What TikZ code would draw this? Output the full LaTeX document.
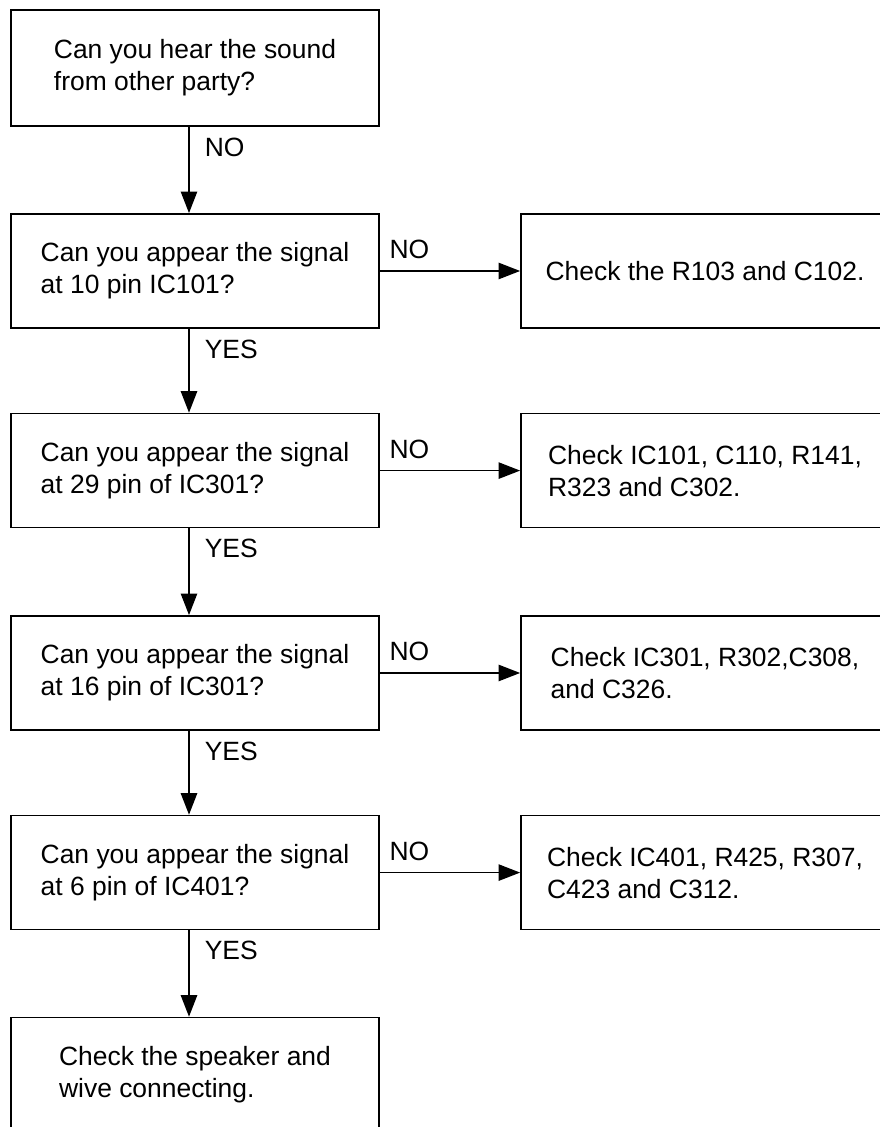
\documentclass[tikz,border=0pt]{standalone}
\usepackage{fontspec}
\setmainfont{Liberation Sans}
\usepackage{tikz}
\usetikzlibrary{positioning,arrows.meta}

\begin{document}
\begin{tikzpicture}[
  box/.style={rectangle,draw=black,line width=1.25pt,align=left,minimum width=9.2cm,minimum height=2.85cm,font=\fontsize{18.8pt}{22.8pt}\selectfont},
  flow/.style={-{Triangle[length=0.54cm,width=0.41cm]},line width=1.1pt},
  answer/.style={inner sep=0pt,font=\fontsize{18.8pt}{22.8pt}\selectfont}
]
\useasboundingbox (0,0) rectangle (22,28.175);
\clip (0,0) rectangle (22,28.175);

% questions
\node[box,minimum height=2.9cm] (hear) at (4.875,26.475) {Can you hear the sound\\from other party?};
\node[box] (pin10) at (4.875,21.4) {Can you appear the signal\\at 10 pin IC101?};
\node[box] (pin29) at (4.875,16.41) {Can you appear the signal\\at 29 pin of IC301?};
\node[box] (pin16) at (4.875,11.35) {Can you appear the signal\\at 16 pin of IC301?};
\node[box] (pin6) at (4.875,6.36) {Can you appear the signal\\at 6 pin of IC401?};
\node[box] (speaker) at (4.875,1.31) {Check the speaker and\\wive connecting.};

% checks
\node[box] (fix10) at (17.625,21.4) {Check the R103 and C102.};
\node[box] (fix29) at (17.625,16.41) {Check IC101, C110, R141,\\R323 and C302.};
\node[box] (fix16) at (17.625,11.35) {Check IC301, R302,C308,\\and C326.};
\node[box] (fix6) at (17.625,6.36) {Check IC401, R425, R307,\\C423 and C312.};

\foreach \a/\b/\t in {hear/pin10/NO,pin10/pin29/YES,pin29/pin16/YES,pin16/pin6/YES,pin6/speaker/YES}
  \draw[flow] ([xshift=-0.15cm]\a.south) -- ([xshift=-0.15cm]\b.north)
    node[answer,pos=0,anchor=north west,xshift=0.375cm,yshift=-0.25cm] {\t};

\foreach \a/\b in {pin10/fix10,pin29/fix29,pin16/fix16,pin6/fix6}
  \draw[flow] (\a.east) -- (\b.west)
    node[answer,pos=0,anchor=south west,xshift=0.225cm,yshift=0.275cm] {NO};

\end{tikzpicture}
\end{document}
